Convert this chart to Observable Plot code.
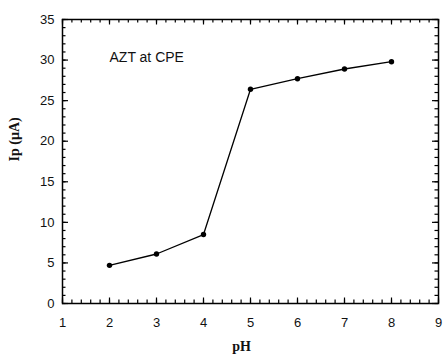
<!DOCTYPE html>
<html>
<head>
<meta charset="utf-8">
<script src="https://cdn.jsdelivr.net/npm/d3@7"></script>
<script src="https://cdn.jsdelivr.net/npm/@observablehq/plot@0.6"></script>
<style>
  body { margin: 0; background: #fff; }
</style>
</head>
<body>
<div id="chart"></div>
<script>
// Peak current of AZT at the carbon paste electrode versus pH
const pH = [2, 3, 4, 5, 6, 7, 8];
const ip = [4.7, 6.1, 8.5, 26.4, 27.7, 28.9, 29.8];

// Axis tick values
const xTicks = [1, 2, 3, 4, 5, 6, 7, 8, 9];
const yTicks = [0, 5, 10, 15, 20, 25, 30, 35];
const xMinor = d3.range(10, 91, 2).map(d => d / 10);
const yMinor = d3.range(0, 36, 1);

const data = pH.map((x, i) => ({pH: x, ip: ip[i]}));

const serif = "'Liberation Serif', 'Times New Roman', serif";

const W = 444, H = 357;
const M = {left: 62, right: 6, top: 19, bottom: 54};
const innerW = W - M.left - M.right;
const innerH = H - M.top - M.bottom;

// short ticks pointing into the box from each side
const tickStyle = {stroke: "#000", strokeWidth: 1.2};
const leftTicks = (values, len) => Plot.tickY(values, {y: d => d, insetRight: innerW - len, ...tickStyle});
const rightTicks = (values, len) => Plot.tickY(values, {y: d => d, insetLeft: innerW - len, ...tickStyle});
const bottomTicks = (values, len) => Plot.tickX(values, {x: d => d, insetTop: innerH - len, ...tickStyle});
const topTicks = (values, len) => Plot.tickX(values, {x: d => d, insetBottom: innerH - len, ...tickStyle});

const chart = Plot.plot({
  width: W,
  height: H,
  marginLeft: M.left,
  marginRight: M.right,
  marginTop: M.top,
  marginBottom: M.bottom,
  x: {domain: [1, 9]},
  y: {domain: [0, 35]},
  style: {fontFamily: "'Liberation Sans', Arial, sans-serif", fontSize: "13px", color: "#111", background: "#fff"},
  marks: [
    Plot.axisX(xTicks, {anchor: "bottom", tickSize: 0, tickPadding: 14, label: null}),
    Plot.axisY(yTicks, {anchor: "left", tickSize: 0, tickPadding: 8, label: null}),
    bottomTicks(xMinor, 3.5),
    bottomTicks(xTicks, 5.5),
    topTicks(xMinor, 3.5),
    topTicks(xTicks, 5.5),
    leftTicks(yMinor, 3.5),
    leftTicks(yTicks, 6),
    rightTicks(yMinor, 3.5),
    rightTicks(yTicks, 6),
    Plot.frame({stroke: "#000", strokeWidth: 1.5}),
    Plot.line(data, {x: "pH", y: "ip", stroke: "#000", strokeWidth: 1.3}),
    Plot.dot(data, {x: "pH", y: "ip", r: 2.7, fill: "#000"}),
    Plot.text(["AZT at CPE"], {frameAnchor: "top-left", textAnchor: "start", lineAnchor: "middle", dx: 47, dy: 38, fontSize: 14, fill: "#111"}),
    Plot.text(["pH"], {frameAnchor: "bottom", lineAnchor: "middle", dx: -9, dy: 43, fontFamily: serif, fontWeight: "bold", fontSize: 14, fill: "#111"}),
    Plot.text(["Ip (µA)"], {frameAnchor: "left", rotate: -90, lineAnchor: "middle", dx: -48, fontFamily: serif, fontWeight: "bold", fontSize: 14, fill: "#111"})
  ]
});

document.getElementById("chart").append(chart);
</script>
</body>
</html>
